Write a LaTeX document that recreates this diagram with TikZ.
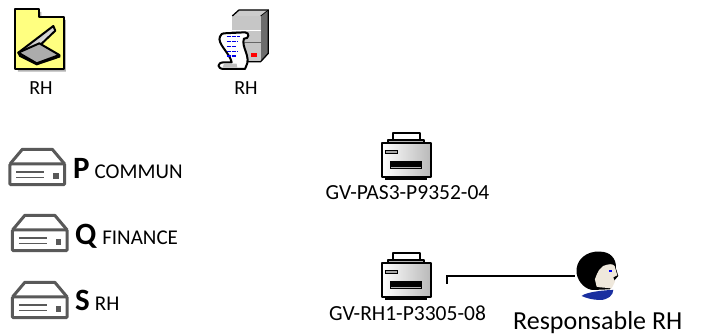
\documentclass[tikz,border=0pt]{standalone}
\usepackage{fontspec}
\setmainfont{Carlito}
\usetikzlibrary{positioning}
\definecolor{nasgray}{HTML}{595959}
\definecolor{folderyellow}{HTML}{FFFF80}
\definecolor{shirtblue}{HTML}{1A2FA0}
\definecolor{skintone}{HTML}{EFE8DC}
\tikzset{
    iconunit/.style={x=0.3333pt, y=-0.3333pt},
    iconline/.style={draw=black, line width=2pt, line join=round},
    label/.style={text=black, inner sep=0pt, font=\fontsize{20}{20}\selectfont},
    pics/nasicon/.style={code={
        \begin{scope}[iconunit]
            \draw[nasgray, line width=3pt, line join=round, fill=white]
                (3,48) -- (40,4) -- (130,4) -- (167,48);
            \draw[nasgray, line width=3pt, rounded corners=1pt, fill=white]
                (3,48) rectangle (167,110);
            \draw[nasgray, line width=1.6pt] (22,72) -- (106,72);
            \draw[nasgray, line width=1.6pt] (22,88) -- (106,88);
            \fill[nasgray] (133,76) rectangle (150,92);
        \end{scope}
    }},
    pics/printericon/.style={code={
        \begin{scope}[iconunit]
            \draw[iconline, fill=white] (218,70) -- (218,40) -- (300,40) -- (300,70);
            \draw[iconline, fill=gray!60] (205,68) -- (205,60) -- (312,60) -- (312,68);
            \fill[black] (195,170) rectangle (322,180);
            \draw[iconline, left color=white, right color=gray!55] (185,68) rectangle (332,172);
            \draw[black, line width=0.8pt, fill=gray!70] (197,90) rectangle (233,100);
            \fill[black] (210,122) rectangle (307,147);
            \fill[gray!60] (214,141) rectangle (303,145);
        \end{scope}
    }},
}
\begin{document}
\begin{tikzpicture}[x=1pt, y=-1pt]
    \useasboundingbox (0,0) rectangle (705,336);

    % folder with scanner
    \begin{scope}[iconunit]
        \fill[gray!60] (54,36) -- (124,36) -- (124,60) -- (198,60) -- (198,215) -- (54,215) -- cycle;
        \draw[iconline, fill=folderyellow] (46,28) -- (118,28) -- (118,52) -- (192,52) -- (192,208) -- (46,208) -- cycle;
        \draw[iconline, left color=gray!80, right color=white, shading angle=45]
            (55,158) -- (160,78) -- (166,92) -- (105,150) -- cycle;
        \draw[iconline, fill=gray!65] (55,158) -- (118,130) -- (178,165) -- (110,190) -- cycle;
        \draw[black, line width=2pt] (55,158) -- (60,168) -- (110,193) -- (178,170) -- (178,165);
    \end{scope}
    \node (scanlabel) at (41,88) [label] {RH};

    % server with scroll
    \begin{scope}[iconunit]
        \fill[gray!40] (697,48) -- (717,30) -- (805,30) -- (782,48) -- cycle;
        \fill[gray!85!black] (782,48) -- (805,30) -- (805,160) -- (782,185) -- cycle;
        \fill[gray!45] (697,48) rectangle (782,185);
        \draw[white, line width=0.7pt] (697,90) -- (782,90);
        \draw[black!60, line width=0.7pt] (697,127) -- (782,127);
        \draw[black, line width=1.3pt] (697,48) -- (717,30) -- (805,30) -- (805,160) -- (782,185) -- (740,185);
        \draw[black, line width=0.7pt] (782,48) -- (805,30);
        \fill[red] (753,158) rectangle (771,170);
        \draw[iconline, fill=white]
            (672,100) -- (735,97) .. controls (750,97) and (748,118) .. (732,116)
            .. controls (722,140) and (755,170) .. (738,200) -- (735,207) -- (672,207)
            .. controls (650,207) and (650,187) .. (672,187) -- (695,187)
            .. controls (690,160) and (650,130) .. (660,110) .. controls (662,102) and (668,100) .. (672,100) -- cycle;
        \fill[gray!50] (672,191) -- (710,191) -- (712,203) -- (668,203) -- cycle;
        \foreach \rowy/\rowlen in {110/38,124/34,139/30,154/34,168/30} {
            \draw[blue!90!black, line width=1.5pt, dash pattern=on 2pt off 0.5pt] (680,\rowy) -- ++(\rowlen,0);
        }
    \end{scope}
    \node (serverlabel) at (246,88) [label] {RH};

    % shares
    \pic at (9,148) {nasicon};
    \pic at (11.5,214) {nasicon};
    \pic at (11.5,281) {nasicon};
    \node (sharep) at (73,179) [label, anchor=base west] {\fontsize{31}{31}\selectfont\textbf{P}\hspace{5pt}\fontsize{21}{20}\selectfont COMMUN};
    \node (shareq) at (75,245) [label, anchor=base west] {\fontsize{31}{31}\selectfont\textbf{Q}\hspace{5pt}\fontsize{21}{20}\selectfont FINANCE};
    \node (shares) at (75,311) [label, anchor=base west] {\fontsize{31}{31}\selectfont\textbf{S}\hspace{5pt}\fontsize{21}{20}\selectfont RH};

    % printers
    \pic at (320,120) {printericon};
    \node (printerA) at (407.5,193) [label, font=\fontsize{21.5}{21}\selectfont] {GV-PAS3-P9352-04};
    \pic at (320,240) {printericon};
    \node (printerB) at (407.5,313) [label, font=\fontsize{21.5}{21}\selectfont] {GV-RH1-P3305-08};

    % responsible
    \node (resp) at (597,276) [minimum width=44pt, minimum height=50pt, inner sep=0pt] {};
    \coordinate (hook) at (447,284);
    \begin{scope}[iconunit, shift={(960,720)}]
        \fill[shirtblue] (785,168) .. controls (800,155) and (860,150) .. (880,150) .. controls (880,165) and (865,180) .. (840,180) .. controls (820,180) and (800,175) .. (785,168) -- cycle;
        \fill[black] (770,100) .. controls (765,60) and (800,32) .. (840,35) .. controls (870,35) and (890,55) .. (888,85) -- (895,108) -- (880,125) -- (870,148) -- (820,150) .. controls (800,150) and (775,130) .. (770,100) -- cycle;
        \fill[skintone] (825,118) .. controls (835,90) and (840,85) .. (850,78) .. controls (865,72) and (878,70) .. (884,78) -- (892,106) -- (880,112) -- (885,125) -- (875,145) -- (840,142) -- (830,140) -- cycle;
        \fill[blue] (866,90) rectangle (875,97);
    \end{scope}
    \node (resplabel) at (513,330) [label, anchor=base west, font=\fontsize{26}{26}\selectfont] {Responsable RH};
    \draw[black, line width=1.2pt] (hook) |- (resp.west);
\end{tikzpicture}
\end{document}
